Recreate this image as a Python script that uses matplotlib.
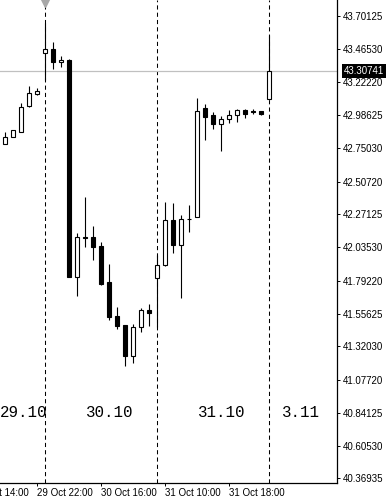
import matplotlib
matplotlib.use('Agg')
import matplotlib.pyplot as plt
from matplotlib.patches import Rectangle
import matplotlib.transforms as mtransforms

# hourly candles
opens  = [42.7766, 42.8270, 42.8674, 43.0548, 43.1413, 43.4324, 43.4613, 43.3676,
          43.3841, 41.8223, 42.1050, 42.1063, 42.0436, 41.7820, 41.5391, 41.4721,
          41.2544, 41.4577, 41.5802, 41.8108, 41.9031, 42.2288, 42.0486, 42.2410,
          42.2505, 43.0360, 42.9856, 42.9207, 42.9568, 42.9856, 43.0238, 43.0144,
          43.0166, 43.1052]
highs  = [42.8631, 42.8775, 43.0721, 43.1968, 43.1802, 43.6486, 43.5139, 43.4130,
          43.3892, 42.1395, 42.3989, 42.1877, 42.0724, 41.9124, 41.6018, 41.4721,
          41.4814, 41.5968, 41.6256, 41.9787, 42.3607, 42.3535, 42.2685, 42.3391,
          43.1124, 43.0670, 43.0094, 42.9805, 43.0238, 43.0332, 43.0288, 43.0332,
          43.0166, 43.5643]
lows   = [42.7766, 42.8270, 42.8631, 43.0476, 43.1319, 43.2400, 43.3171, 43.3359,
          41.8223, 41.6854, 42.0342, 41.9427, 41.7625, 41.5124, 41.4418, 41.1809,
          41.2025, 41.4259, 41.4670, 41.4634, 41.9016, 41.9910, 41.6667, 42.1409,
          42.2505, 42.8076, 42.8890, 42.7304, 42.9279, 42.9395, 42.9640, 42.9928,
          42.9856, 43.1052]
closes = [42.8292, 42.8775, 43.0476, 43.1441, 43.1607, 43.4613, 43.3676, 43.3820,
          41.8223, 42.1063, 42.1020, 42.0386, 41.7697, 41.5341, 41.4706, 41.2544,
          41.4577, 41.5802, 41.5643, 41.9045, 42.2288, 42.0544, 42.2404, 42.2400,
          43.0166, 42.9755, 42.9207, 42.9589, 42.9856, 43.0238, 42.9971, 43.0072,
          42.9928, 43.30741]

price_ticks = [43.70125, 43.46530, 43.22220, 42.98625, 42.75030, 42.50720, 42.27125,
               42.03530, 41.79220, 41.55625, 41.32030, 41.07720, 40.84125, 40.60530,
               40.36935]
time_ticks = [4, 12, 20, 28]
time_labels = ['29 Oct 22:00', '30 Oct 16:00', '31 Oct 10:00', '31 Oct 18:00']
first_time_label = '29 Oct 14:00'
day_breaks = [5, 19, 33]
day_labels = ['29.10', '30.10', '31.10', '3.11']
day_label_x = [2.25, 13.1, 27.0, 36.95]

fig = plt.figure(figsize=(3.87, 5), dpi=100)
ax = fig.add_axes([0, 1 - 482.7 / 500, 337 / 387, 482.7 / 500])
ax.set_xlim(-0.6625, 41.46)
ax.set_ylim(40.33765, 43.81657)

for d in day_breaks:
    ax.axvline(d, color='black', lw=0.75, ls=(0, (4, 3)), zorder=1)

last = closes[-1]
ax.axhline(last, color='#c0c0c0', lw=0.9, zorder=1)

w = 0.5
for i in range(len(opens)):
    o, h, l, c = opens[i], highs[i], lows[i], closes[i]
    ax.vlines(i, l, h, color='black', lw=0.8, zorder=2)
    bull = c >= o
    ax.add_patch(Rectangle((i - w / 2, min(o, c)), w, abs(c - o),
                           facecolor='white' if bull else 'black',
                           edgecolor='black', lw=0.8, zorder=3))

for x, lab in zip(day_label_x, day_labels):
    ax.text(x, 40.84125, lab, ha='center', va='center', fontsize=11.3,
            family='Liberation Mono', color='black')

# gray marker on top of first day break
trans = mtransforms.blended_transform_factory(ax.transData, ax.transAxes)
ax.plot([day_breaks[0]], [0.994], marker='v', ms=6, color='#a8a8a8',
        transform=trans, clip_on=False)

for s in ['top', 'left']:
    ax.spines[s].set_visible(False)
for s in ['right', 'bottom']:
    ax.spines[s].set_linewidth(0.9)

ax.yaxis.tick_right()
ax.set_yticks(price_ticks)
ax.set_yticklabels([f'{p:.5f}' for p in price_ticks])
ax.tick_params(axis='y', direction='out', length=2.5, width=0.7, pad=2,
               labelsize=7, labelfontfamily='Liberation Sans')
ax.set_xticks(time_ticks)
ax.set_xticklabels(time_labels, ha='left')
ax.tick_params(axis='x', direction='out', length=2.5, width=0.7, pad=1.5,
               labelsize=7, labelfontfamily='Liberation Sans')
ax.text(-4, -0.0115, first_time_label, transform=trans, ha='left', va='top',
        fontsize=7, family='Liberation Sans', clip_on=False)

ytrans = ax.get_yaxis_transform()
ax.text(1.0208, last, f'{last:.5f}', transform=ytrans, ha='left', va='center',
        fontsize=7, family='Liberation Sans', color='white',
        bbox=dict(boxstyle='square,pad=0.2', fc='black', ec='none'))

fig.savefig('out.png', dpi=100, facecolor='white')
